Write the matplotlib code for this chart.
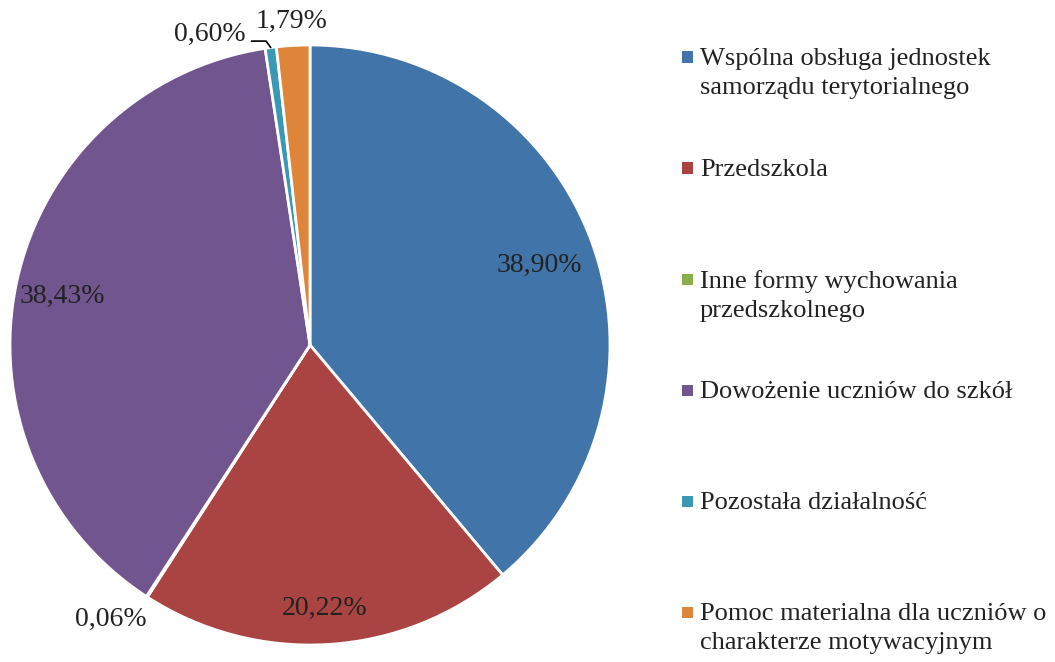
import numpy as np
import matplotlib.pyplot as plt
from matplotlib.patches import Rectangle

plt.rcParams['font.family'] = ['Liberation Serif', 'DejaVu Serif']

labels = ['Wspólna obsługa jednostek\nsamorządu terytorialnego',
          'Przedszkola',
          'Inne formy wychowania\nprzedszkolnego',
          'Dowożenie uczniów do szkół',
          'Pozostała działalność',
          'Pomoc materialna dla uczniów o\ncharakterze motywacyjnym']
values = [38.90, 20.22, 0.06, 38.43, 0.60, 1.79]
pct_text = ['38,90%', '20,22%', '0,06%', '38,43%', '0,60%', '1,79%']
colors = ['#4174A8', '#AA4442', '#8AAE4A', '#71558F', '#3A98B4', '#DE8539']

# label placement: radius factor and angle tweak (deg)
lab_r = [0.81, 0.88, 1.13, 0.84, 1.10, 1.08]
lab_da = [-0.8, -0.3, -3.0, 1.2, 0, 0]

fig = plt.figure(figsize=(10.55, 6.62), dpi=100)
ax = fig.add_axes([10/1055, 17/662, 600/1055, 600/662])

wedges, _ = ax.pie(values, colors=colors, startangle=90, counterclock=False,
                   wedgeprops=dict(edgecolor='white', linewidth=2))
ax.set_xlim(-1, 1)
ax.set_ylim(-1, 1)

for i, w in enumerate(wedges):
    ang = np.deg2rad((w.theta1 + w.theta2) / 2 + lab_da[i])
    x, y = lab_r[i] * np.cos(ang), lab_r[i] * np.sin(ang)
    if i == 4:
        # small slice: label to the left with a leader line
        ex, ey = np.cos(ang), np.sin(ang)
        ax.text(-0.215, 1.035, pct_text[i], ha='right', va='center',
                fontsize=20, color='#222222', clip_on=False)
        ax.annotate('', xy=(ex, ey), xytext=(-0.195, 1.013),
                    arrowprops=dict(arrowstyle='-', color='black', lw=1.2,
                                    shrinkA=0, shrinkB=0,
                                    connectionstyle='angle,angleA=0,angleB=125,rad=0'),
                    annotation_clip=False)
    else:
        ax.text(x, y, pct_text[i], ha='center', va='center', fontsize=20,
                color='#222222', clip_on=False)

# legend
y0 = 57
step = 111
for i, lab in enumerate(labels):
    yy = 1 - (y0 + i * step) / 662
    fig.patches.append(Rectangle((682/1055, yy - 5.5/662), 11/1055, 11/662,
                                 transform=fig.transFigure, facecolor=colors[i],
                                 edgecolor='none'))
    fig.text(700/1055, yy + 9/662, lab, ha='left', va='top', fontsize=19,
             color='#222222', linespacing=1.4)

fig.savefig('out.png', dpi=100)
